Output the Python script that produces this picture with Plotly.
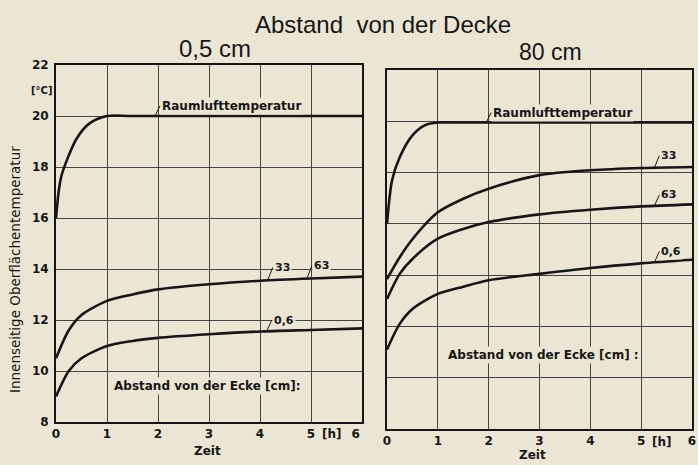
import numpy as np
import plotly.graph_objects as go

# ---- data -------------------------------------------------------------
hours = [0, 1, 2, 3, 4, 5, 6]
hour_labels = ["0", "1", "2", "3", "4", "5", "6"]
temp_ticks = [8, 10, 12, 14, 16, 18, 20, 22]

# Panel A: 0,5 cm below the ceiling
t_air_a = [0, 0.05, 0.1, 0.2, 0.4, 0.65, 1.0, 1.5, 6.0]
air_a = [16.0, 17.0, 17.6, 18.2, 19.1, 19.7, 20.0, 20.0, 20.0]
t_wall = [0, 0.25, 0.5, 1, 1.5, 2, 3, 4, 5, 6]
c33_63_a = [10.5, 11.6, 12.2, 12.75, 13.0, 13.2, 13.4, 13.54, 13.63, 13.7]
c06_a = [9.0, 10.0, 10.5, 10.98, 11.18, 11.3, 11.44, 11.55, 11.61, 11.67]

# Panel B: 80 cm below the ceiling
t_air_b = [0, 0.1, 0.25, 0.5, 0.75, 1.0, 1.5, 6.0]
air_b = [16.0, 17.7, 18.6, 19.45, 19.85, 19.95, 19.95, 19.95]
c33_b = [13.85, 14.7, 15.4, 16.45, 16.98, 17.37, 17.9, 18.09, 18.18, 18.22]
c63_b = [13.07, 14.05, 14.63, 15.42, 15.8, 16.07, 16.37, 16.55, 16.68, 16.76]
c06_b = [11.1, 12.1, 12.68, 13.27, 13.55, 13.8, 14.05, 14.28, 14.46, 14.6]

# ---- style ------------------------------------------------------------
BG = "#ebe6d3"
INK = "#161616"
GRID = "#444444"
FONT = "DejaVu Sans"
HEAD = "Liberation Sans"

W, H = 698, 465
dom_xa = [56 / W, 362 / W]
dom_xb = [387 / W, 692 / W]
dom_ya = [(H - 422) / H, (H - 65) / H]
dom_yb = [(H - 429) / H, (H - 70) / H]

fig = go.Figure()


def curve(t, v, xa, ya):
    fig.add_trace(go.Scatter(
        x=t, y=v, mode="lines", xaxis=xa, yaxis=ya,
        line=dict(color=INK, width=2.6, shape="spline", smoothing=0.8),
        hoverinfo="skip", showlegend=False,
    ))


curve(t_air_a, air_a, "x", "y")
curve(t_wall, c33_63_a, "x", "y")
curve(t_wall, c06_a, "x", "y")
curve(t_air_b, air_b, "x2", "y2")
curve(t_wall, c33_b, "x2", "y2")
curve(t_wall, c63_b, "x2", "y2")
curve(t_wall, c06_b, "x2", "y2")

tickfont = dict(family=FONT, size=12, color=INK, weight="bold")
axis_common = dict(
    range=[0, 6], tickvals=hours,
    showgrid=True, gridcolor=GRID, gridwidth=1,
    showline=True, mirror=True, linecolor=INK, linewidth=1.8,
    zeroline=False, ticks="", tickfont=tickfont, automargin=False,
)
yaxis_common = dict(
    range=[8, 22], tickvals=temp_ticks, showgrid=True, gridcolor=GRID,
    gridwidth=1, showline=True, mirror=True, linecolor=INK, linewidth=1.8,
    zeroline=False, ticks="", tickfont=tickfont, automargin=False,
)

# the last hour label of the left panel sits a little inward, clear of the
# neighbouring panel
labels_a = hour_labels[:-1] + [hour_labels[-1] + "\u00a0\u00a0\u00a0"]

fig.update_layout(
    template="none",
    width=W, height=H, margin=dict(l=0, r=0, t=0, b=0, pad=0),
    paper_bgcolor=BG, plot_bgcolor=BG, showlegend=False,
    xaxis=dict(axis_common, domain=dom_xa, anchor="y", ticktext=labels_a),
    yaxis=dict(yaxis_common, domain=dom_ya, anchor="x", ticklabelstandoff=3),
    xaxis2=dict(axis_common, domain=dom_xb, anchor="y2", ticktext=hour_labels),
    yaxis2=dict(yaxis_common, domain=dom_yb, anchor="x2", showticklabels=False),
)

ann = []


def label(text, t, tv, vv, xr, yr, ax=5, ay=-11, size=12):
    y0 = float(np.interp(t, tv, vv))
    ann.append(dict(
        x=t, y=y0, xref=xr, yref=yr, text=text, showarrow=True,
        arrowhead=0, arrowwidth=1, arrowcolor=INK, ax=ax, ay=ay,
        xanchor="left", yanchor="middle", bgcolor=BG, borderpad=1,
        font=dict(family=FONT, size=size, color=INK, weight="bold"),
    ))


def text(s, x, y, xr, yr, font, bg=None, angle=0):
    d = dict(x=x, y=y, xref=xr, yref=yr, text=s, showarrow=False,
             xanchor="center", yanchor="middle", font=font, textangle=angle)
    if bg:
        d.update(bgcolor=bg, borderpad=1)
    ann.append(d)


# curve labels, panel A
label("Raumlufttemperatur", 1.94, t_air_a, air_a, "x", "y", ay=-10)
label("33", 4.15, t_wall, c33_63_a, "x", "y", ay=-13, size=11)
label("63", 4.92, t_wall, c33_63_a, "x", "y", ay=-13, size=11)
label("0,6", 4.13, t_wall, c06_a, "x", "y", ay=-11, size=11)
# curve labels, panel B
label("Raumlufttemperatur", 1.95, t_air_b, air_b, "x2", "y2", ay=-10)
label("33", 5.26, t_wall, c33_b, "x2", "y2", ay=-12, size=11)
label("63", 5.26, t_wall, c63_b, "x2", "y2", ay=-11, size=11)
label("0,6", 5.26, t_wall, c06_b, "x2", "y2", ay=-11, size=11)

txt = dict(family=FONT, size=12, color=INK, weight="bold")
text("Abstand von der Ecke [cm]:", 2.97, 9.41, "x", "y", txt, bg=BG)
text("Abstand von der Ecke [cm] :", 3.08, 10.9, "x2", "y2", txt, bg=BG)
# unit markers
text("[h]", 5.41, (H - 434) / H, "x", "paper", txt)
text("[h]", 5.4, (H - 442) / H, "x2", "paper", txt)
text("[°C]", 41 / W, (H - 90) / H, "paper", "paper",
     dict(family=FONT, size=10, color=INK, weight="bold"))
# axis titles
text("Zeit", 2.98, (H - 451) / H, "x", "paper", txt)
text("Zeit", 2.86, (H - 455) / H, "x2", "paper", txt)
text("Innenseitige Oberflächentemperatur", 15 / W, (H - 270) / H,
     "paper", "paper", dict(family=FONT, size=13.5, color=INK), angle=-90)
# headings
text("Abstand  von der Decke", 383 / W, (H - 25) / H, "paper", "paper",
     dict(family=HEAD, size=24, color=INK))
text("0,5 cm", 215 / W, (H - 48) / H, "paper", "paper",
     dict(family=HEAD, size=24, color=INK))
text("80 cm", 550 / W, (H - 52) / H, "paper", "paper",
     dict(family=HEAD, size=23, color=INK))

fig.update_layout(annotations=ann)

fig.write_html("out.html")
